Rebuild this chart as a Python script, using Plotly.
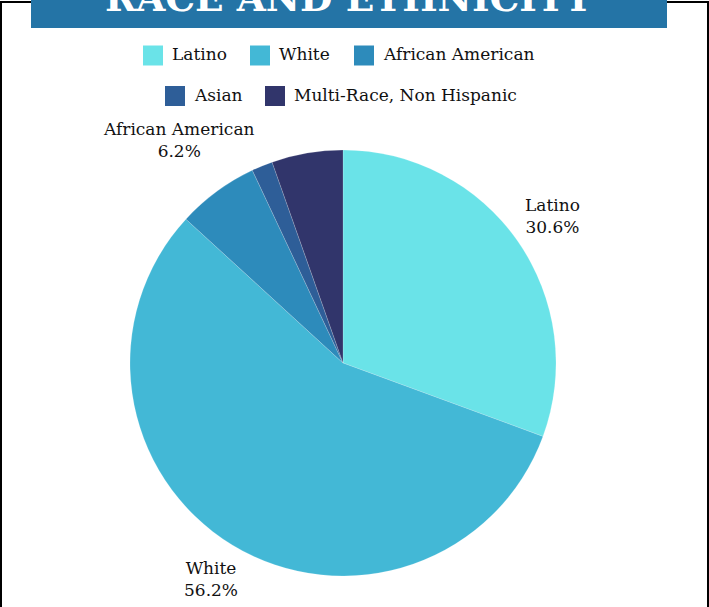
import math
import plotly.graph_objects as go

# ---- data ----
categories = ["Latino", "White", "African American", "Asian", "Multi-Race, Non Hispanic"]
shares = [30.6, 56.2, 6.2, 1.6, 5.4]
show_label = [True, True, True, False, False]
title_text = "RACE AND ETHNICITY"

# ---- styles / layout ----
colors = ["#6AE3E8", "#43B8D6", "#2D8BBB", "#2E5E98", "#31356B"]
FONT = "DejaVu Serif"
W, H = 709, 607
PIE_CX, PIE_CY, PIE_R = 343, 363, 213          # pie geometry in pixels
label_gap = [43, 40, 64, 40, 40]               # distance of label centre beyond the rim (px)

def px_x(x):
    return x / W

def px_y(y):
    return 1 - y / H

fig = go.Figure(go.Pie(
    labels=categories,
    values=shares,
    sort=False,
    direction="clockwise",
    rotation=0,
    marker=dict(colors=colors, line=dict(color="rgba(255,255,255,0.35)", width=0.5)),
    textposition="none",
    hoverinfo="label+percent",
    showlegend=False,
    domain=dict(x=[px_x(PIE_CX - PIE_R), px_x(PIE_CX + PIE_R)],
                y=[px_y(PIE_CY + PIE_R), px_y(PIE_CY - PIE_R)]),
))

shapes = []
annotations = []

# outside slice labels, positioned along each slice's mid-angle
total = sum(shares)
cum = 0.0
for cat, val, show, gap in zip(categories, shares, show_label, label_gap):
    mid = (cum + val / 2) / total * 2 * math.pi
    cum += val
    if not show:
        continue
    r = PIE_R + gap
    lx = PIE_CX + r * math.sin(mid)
    ly = PIE_CY - r * math.cos(mid)
    annotations.append(dict(text=f"{cat}<br>{val / total * 100:.1f}%", xref="paper", yref="paper",
                            x=px_x(lx), y=px_y(ly), xanchor="center", yanchor="middle",
                            showarrow=False, align="center",
                            font=dict(family=FONT, size=17, color="#111111")))

# outer frame
shapes.append(dict(type="rect", xref="paper", yref="paper",
                   x0=px_x(1), x1=px_x(708), y0=px_y(700), y1=px_y(2),
                   line=dict(color="black", width=2), fillcolor="rgba(0,0,0,0)", layer="below"))
# title bar
shapes.append(dict(type="rect", xref="paper", yref="paper",
                   x0=px_x(31), x1=px_x(667), y0=px_y(28), y1=px_y(-10),
                   line=dict(width=0), fillcolor="#2474A6", layer="above"))
annotations.append(dict(text="<b>" + title_text + "</b>", xref="paper", yref="paper",
                        x=px_x(349), y=1, xanchor="center", yanchor="middle", yshift=2,
                        showarrow=False, font=dict(family=FONT, size=37.5, color="white")))

# custom legend (layout positions)
legend_pos = [(143, 55.5), (250, 55.5), (354, 55.5), (165, 96), (265, 96)]
for cat, col, (sx, sy) in zip(categories, colors, legend_pos):
    shapes.append(dict(type="rect", xref="paper", yref="paper",
                       x0=px_x(sx), x1=px_x(sx + 20), y0=px_y(sy + 10), y1=px_y(sy - 10),
                       line=dict(width=0), fillcolor=col))
    annotations.append(dict(text=cat, xref="paper", yref="paper",
                            x=px_x(sx + 27), y=px_y(sy - 1.5), xanchor="left", yanchor="middle",
                            showarrow=False, font=dict(family=FONT, size=17, color="#111111")))

fig.update_layout(
    width=W, height=H,
    margin=dict(l=0, r=0, t=0, b=0),
    paper_bgcolor="white",
    plot_bgcolor="white",
    shapes=shapes,
    annotations=annotations,
)

fig.write_html("out.html",
               config={"displayModeBar": False},
               post_script="document.body.style.margin='0';document.body.style.overflow='hidden';")
